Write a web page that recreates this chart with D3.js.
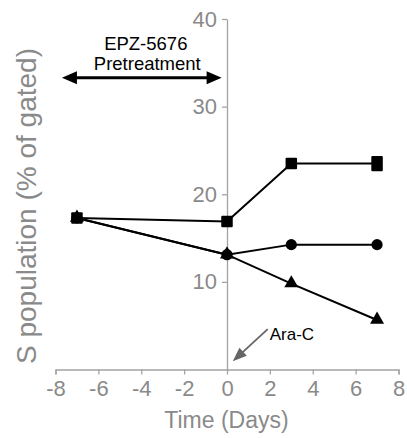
<!DOCTYPE html>
<html>
<head>
<meta charset="utf-8">
<script src="https://cdn.jsdelivr.net/npm/d3@7"></script>
<style>
  html, body { margin: 0; padding: 0; background: #fff; }
  text { font-family: "Liberation Sans", Arial, Helvetica, sans-serif; }
</style>
</head>
<body>
<svg id="chart" width="407" height="438"></svg>
<script>
// ---- data ----
const days = [-7, 0, 3, 7];
const squareValues = [17.3, 16.9, 23.5, 23.5];
const squareSpread = [0, 0, 0, 0.22];
const circleValues = [17.3, 13.1, 14.25, 14.25];
const triangleValues = [17.3, 13.1, 9.8, 5.65];
const xTicks = [-8, -6, -4, -2, 0, 2, 4, 6, 8];
const yTicks = [10, 20, 30, 40];
const pretreatSpan = [-7.7, -0.25];
const pretreatLevel = 33.3;
const pretreatLabel = ["EPZ-5676", "Pretreatment"];
const araCLabel = "Ara-C";
const xLabel = "Time (Days)";
const yLabel = "S population (% of gated)";

const svg = d3.select("#chart");
const x = d3.scaleLinear().domain([-8, 8]).range([55.5, 398.5]);
const y = d3.scaleLinear().domain([0, 40]).range([369.5, 19]);
const axisGray = "#a3a3a3";
const textGray = "#8a8a8a";

// x axis
const gx = svg.append("g").attr("transform", `translate(0,${y(0)})`)
  .call(d3.axisBottom(x).tickValues(xTicks).tickSize(5).tickSizeOuter(5).tickPadding(5.5)
    .tickFormat(d => d < 0 ? "-" + Math.abs(d) : d));
// y axis
const gy = svg.append("g").attr("transform", `translate(${x(0)},0)`)
  .call(d3.axisLeft(y).tickValues(yTicks).tickSize(5).tickSizeOuter(0).tickPadding(5));
[gx, gy].forEach(g => {
  g.select(".domain").attr("stroke", axisGray).attr("stroke-width", 1.3);
  g.selectAll(".tick line").attr("stroke", axisGray).attr("stroke-width", 1.3);
  g.selectAll(".tick text").attr("fill", textGray).attr("font-size", 22)
    .attr("font-family", "'Liberation Sans', Arial, sans-serif");
});

// axis titles
svg.append("text").attr("x", (x(-8) + x(8)) / 2 - 0.5).attr("y", 428)
  .attr("text-anchor", "middle").attr("font-size", 23).attr("fill", textGray).text(xLabel);
svg.append("text").attr("transform", "translate(36,206) rotate(-90)")
  .attr("text-anchor", "middle").attr("font-size", 28).attr("fill", textGray).text(yLabel);

// lines
const line = d3.line().x((d, i) => x(days[i])).y(d => y(d));
[squareValues, circleValues, triangleValues].forEach(vals => {
  svg.append("path").datum(vals).attr("d", line)
    .attr("fill", "none").attr("stroke", "#000").attr("stroke-width", 2);
});

// markers
const circ = d3.symbol().type(d3.symbolCircle).size(Math.PI * 5.6 * 5.6);
svg.selectAll(".circ").data(circleValues).join("path")
  .attr("d", circ).attr("transform", (d, i) => `translate(${x(days[i])},${y(d)})`)
  .attr("fill", "#000");

const tri = d3.symbol().type(d3.symbolTriangle).size(85);
svg.selectAll(".tri").data(triangleValues).join("path")
  .attr("d", tri).attr("transform", (d, i) => `translate(${x(days[i])},${y(d) - 0.3})`)
  .attr("fill", "#000");

const sqSide = 11.5;
svg.selectAll(".sq").data(squareValues).join("rect")
  .attr("x", (d, i) => x(days[i]) - sqSide / 2)
  .attr("y", (d, i) => y(d + squareSpread[i]) - sqSide / 2)
  .attr("width", sqSide)
  .attr("height", (d, i) => sqSide + (y(d - squareSpread[i]) - y(d + squareSpread[i])))
  .attr("rx", 1)
  .attr("fill", "#000");

// pretreatment double arrow
const ay = y(pretreatLevel);
const ax0 = x(pretreatSpan[0]), ax1 = x(pretreatSpan[1]);
const headL = 15, headH = 6.5;
svg.append("line").attr("x1", ax0 + headL - 2).attr("x2", ax1 - headL + 2)
  .attr("y1", ay).attr("y2", ay).attr("stroke", "#000").attr("stroke-width", 3);
svg.append("path").attr("d", `M${ax0},${ay} L${ax0 + headL},${ay - headH} L${ax0 + headL},${ay + headH} Z`).attr("fill", "#000");
svg.append("path").attr("d", `M${ax1},${ay} L${ax1 - headL},${ay - headH} L${ax1 - headL},${ay + headH} Z`).attr("fill", "#000");
const cx = (ax0 + ax1) / 2 + 4;
svg.append("text").attr("x", cx).attr("y", 50).attr("text-anchor", "middle")
  .attr("font-size", 18.5).attr("fill", "#000").text(pretreatLabel[0]);
svg.append("text").attr("x", cx + 1.5).attr("y", 70).attr("text-anchor", "middle")
  .attr("font-size", 18.5).attr("fill", "#000").text(pretreatLabel[1]);

// Ara-C annotation
const tipX = x(0.27), tipY = y(0.95);
const tailX = x(1.9), tailY = y(4.6);
const ang = Math.atan2(tipY - tailY, tipX - tailX);
const hl = 14, hw = 5.5;
const bx = tipX - hl * Math.cos(ang), by = tipY - hl * Math.sin(ang);
svg.append("line").attr("x1", tailX).attr("y1", tailY).attr("x2", bx + 2 * Math.cos(ang)).attr("y2", by + 2 * Math.sin(ang))
  .attr("stroke", "#666").attr("stroke-width", 1.8);
svg.append("path").attr("d",
  `M${tipX},${tipY} L${bx - hw * Math.sin(ang)},${by + hw * Math.cos(ang)} L${bx + hw * Math.sin(ang)},${by - hw * Math.cos(ang)} Z`)
  .attr("fill", "#666");
svg.append("text").attr("x", tailX + 2).attr("y", 340).attr("font-size", 17)
  .attr("fill", "#000").text(araCLabel);
</script>
</body>
</html>
